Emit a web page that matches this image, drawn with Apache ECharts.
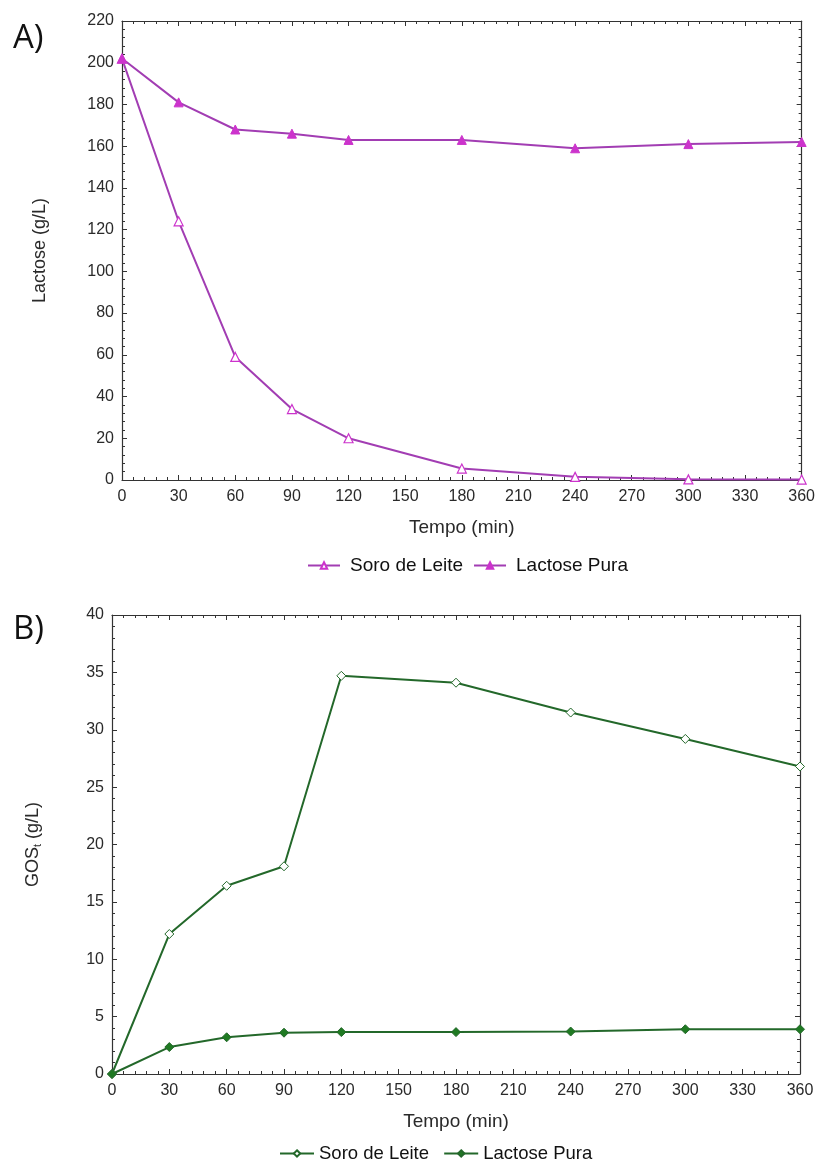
<!DOCTYPE html>
<html><head><meta charset="utf-8">
<script src="https://cdn.jsdelivr.net/npm/echarts@6/dist/echarts.min.js"></script>
<style>html,body{margin:0;padding:0;background:#fff}#c{width:818px;height:1162px}</style>
</head><body><div id="c"></div>
<script>
const tempo = [0, 30, 60, 90, 120, 180, 240, 300, 360];
const lactoseSoro = [202, 124, 59, 34, 20, 5.5, 1.5, 0.3, 0.2];
const lactosePura = [202, 181, 168, 166, 163, 163, 159, 161, 162];
const gosSoro = [0, 12.2, 16.4, 18.1, 34.7, 34.1, 31.5, 29.2, 26.8];
const gosPura = [0, 2.35, 3.2, 3.6, 3.65, 3.65, 3.7, 3.9, 3.9];

const pair = (xs, ys) => xs.map((x, i) => [x, ys[i]]);
const font = 'Liberation Sans, Arial, sans-serif';
const txt = '#2a2a2a';
const axisCol = '#333';
const magLine = '#a23db3', magMark = '#cc33cc';
const grnLine = '#23682a', grnMark = '#1f7a22';

function xAxes(gi, gap) {
  const common = {
    type: 'value', gridIndex: gi, min: 0, max: 360, interval: 30,
    axisLine: { show: true, onZero: false, lineStyle: { color: axisCol, width: 1.2 } },
    axisTick: { show: true, inside: true, length: 5, lineStyle: { color: axisCol } },
    minorTick: { show: true, splitNumber: 5, length: 3, lineStyle: { color: axisCol } },
    splitLine: { show: false }
  };
  return [
    Object.assign({}, common, {
      position: 'bottom',
      name: 'Tempo (min)', nameLocation: 'middle', nameGap: gap,
      nameTextStyle: { fontFamily: font, fontSize: 19, color: txt },
      axisLabel: { show: true, margin: 9, fontFamily: font, fontSize: 16, color: txt }
    }),
    Object.assign({}, common, { position: 'top', axisLabel: { show: false } })
  ];
}
function yAxes(gi, max, interval, name, gap) {
  const common = {
    type: 'value', gridIndex: gi, min: 0, max: max, interval: interval,
    axisLine: { show: true, onZero: false, lineStyle: { color: axisCol, width: 1.2 } },
    axisTick: { show: true, inside: true, length: 5, lineStyle: { color: axisCol } },
    minorTick: { show: true, splitNumber: 5, length: 3, lineStyle: { color: axisCol } },
    splitLine: { show: false }
  };
  return [
    Object.assign({}, common, {
      position: 'left',
      name: name, nameLocation: 'middle', nameGap: gap,
      nameTextStyle: { fontFamily: font, fontSize: 18, color: txt,
        rich: { sub: { fontFamily: font, fontSize: 11, color: txt, verticalAlign: 'bottom', padding: [9, 0, 0, 0] } } },
      axisLabel: { show: true, margin: 8, fontFamily: font, fontSize: 16, color: txt }
    }),
    Object.assign({}, common, { position: 'right', axisLabel: { show: false } })
  ];
}

const titleStyle = { fontFamily: 'Open Sans, ' + font, fontSize: 33, fontWeight: 'normal', color: '#111' };
const option = {
  backgroundColor: '#fff',
  animation: false,
  title: [
    { text: 'A)', left: 8, top: 17, textStyle: titleStyle },
    { text: 'B)', left: 8, top: 608, textStyle: titleStyle }
  ],
  grid: [
    { left: 122, top: 21, width: 680, height: 459 },
    { left: 112, top: 615, width: 688, height: 459 }
  ],
  xAxis: [...xAxes(0, 38), ...xAxes(1, 38)],
  yAxis: [...yAxes(0, 220, 20, 'Lactose (g/L)', 73), ...yAxes(1, 40, 5, 'GOS{sub|t} (g/L)', 69)],
  legend: [
    { top: 551, left: 302, itemWidth: 32, itemHeight: 8, itemGap: 10,
      textStyle: { fontFamily: font, fontSize: 19, color: '#111', padding: [0, 0, 0, 5] },
      data: ['Soro de Leite', 'Lactose Pura'] },
    { top: 1139, left: 274, itemWidth: 34, itemHeight: 8, itemGap: 9,
      textStyle: { fontFamily: font, fontSize: 18.5, color: '#111' },
      data: ['Soro de Leite ', 'Lactose Pura '] }
  ],
  series: [
    { name: 'Soro de Leite', type: 'line', xAxisIndex: 0, yAxisIndex: 0, data: pair(tempo, lactoseSoro),
      symbol: 'triangle', symbolSize: 9, lineStyle: { color: magLine, width: 2 },
      itemStyle: { color: '#fff', borderColor: magMark, borderWidth: 1.2 } },
    { name: 'Lactose Pura', type: 'line', xAxisIndex: 0, yAxisIndex: 0, data: pair(tempo, lactosePura),
      symbol: 'triangle', symbolSize: 9, lineStyle: { color: magLine, width: 2 },
      itemStyle: { color: magMark, borderColor: magMark, borderWidth: 1 } },
    { name: 'Soro de Leite ', type: 'line', xAxisIndex: 2, yAxisIndex: 2, data: pair(tempo, gosSoro),
      symbol: 'diamond', symbolSize: 9, lineStyle: { color: grnLine, width: 2 },
      itemStyle: { color: '#fff', borderColor: grnLine, borderWidth: 1 } },
    { name: 'Lactose Pura ', type: 'line', xAxisIndex: 2, yAxisIndex: 2, data: pair(tempo, gosPura),
      symbol: 'diamond', symbolSize: 9, lineStyle: { color: grnLine, width: 2 },
      itemStyle: { color: grnMark, borderColor: grnLine, borderWidth: 1 } }
  ]
};
const chart = echarts.init(document.getElementById('c'), null, { renderer: 'canvas' });
chart.setOption(option);
</script></body></html>
